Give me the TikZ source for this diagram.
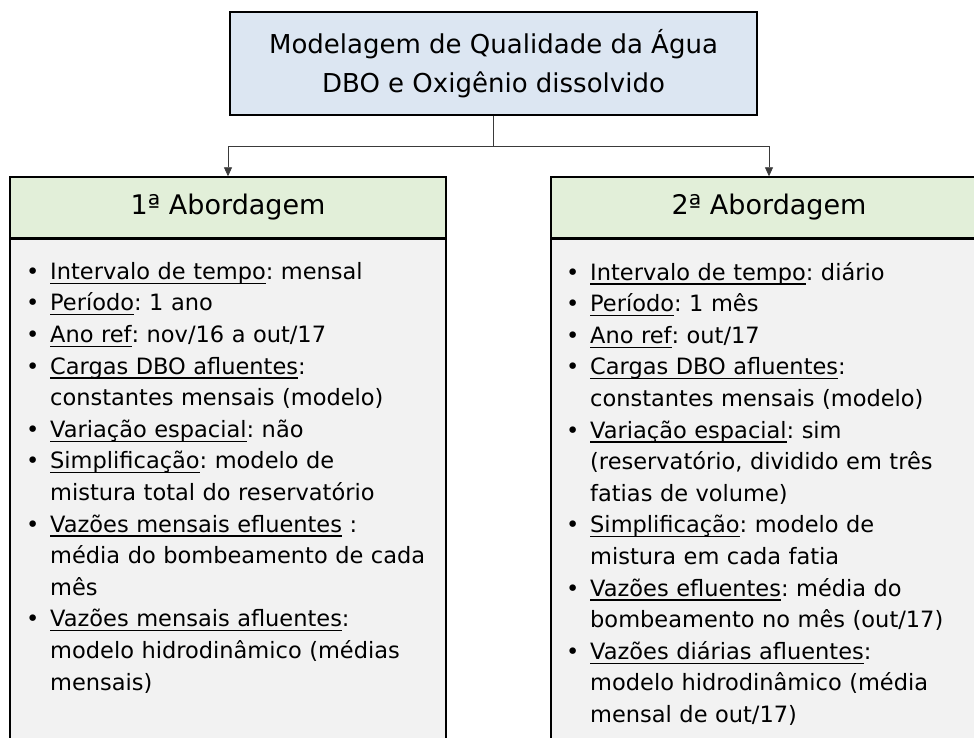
\documentclass[tikz,border=0pt]{standalone}
\usepackage{fontspec}
\setmainfont{DejaVu Sans}
\usetikzlibrary{positioning,arrows.meta}

\definecolor{topblue}{HTML}{DCE6F2}
\definecolor{headgreen}{HTML}{E2EFD9}
\definecolor{bodygray}{HTML}{F2F2F2}
\definecolor{linegray}{HTML}{3A3A3A}

% underlined field name, line at a fixed depth
\newcommand{\sublinha}[1]{\setbox0\hbox{#1}\rlap{\rule[-4.5pt]{\wd0}{1.2pt}}\box0}
% one bullet line of a list, hanging indent for the continuation lines
\newcommand{\topico}[1]{\hangindent=28pt\hangafter=1\noindent\makebox[28pt][l]{\hspace{4pt}\textbullet}#1\par}

\begin{document}
\begin{tikzpicture}[x=1pt, y=-1pt,
    titlebox/.style={draw, line width=1.4pt, fill=topblue, minimum width=527pt, minimum height=103pt, align=center, font=\fontsize{26}{39}\selectfont},
    headbox/.style={draw, line width=1.4pt, fill=headgreen, minimum width=436pt, minimum height=61pt, font=\fontsize{27}{30}\selectfont},
    bodybox/.style={draw, line width=1.4pt, fill=bodygray, minimum width=436pt, minimum height=540pt},
    itemtext/.style={anchor=north west, inner sep=0pt, text width=420pt, font=\fontsize{22.5}{31.6}\selectfont\frenchspacing\raggedright},
    conn/.style={draw=linegray, line width=0.8pt, -{Triangle[length=9pt, width=8pt]}}]
    \path[use as bounding box, clip] (0,0) rectangle (974,738);

    \node (title) [titlebox] at (493.5,63.5) {Modelagem de Qualidade da Água\\DBO e Oxigênio dissolvido};

    \node (head1) [headbox] at (228,207.5) {1ª Abordagem};
    \node (body1) [bodybox, below=0pt of head1] {};
    \node (head2) [headbox] at (769,207.5) {2ª Abordagem};
    \node (body2) [bodybox, below=0pt of head2] {};

    \coordinate (split) at (493.5,146);
    \draw [conn] (title.south) -- (split) -| (head1.north);
    \draw [conn] (split) -| (head2.north);

    \node (items1) [itemtext] at (22,262) {%
        \topico{\sublinha{Intervalo de tempo}: mensal}
        \topico{\sublinha{Período}: 1 ano}
        \topico{\sublinha{Ano ref}: nov/16 a out/17}
        \topico{\sublinha{Cargas DBO afluentes}:\newline constantes mensais (modelo)}
        \topico{\sublinha{Variação espacial}: não}
        \topico{\sublinha{Simplificação}: modelo de\newline mistura total do reservatório}
        \topico{\sublinha{Vazões mensais efluentes}\ :\newline média do bombeamento de cada\newline mês}
        \topico{\sublinha{Vazões mensais afluentes}:\newline modelo hidrodinâmico (médias\newline mensais)}};

    \node (items2) [itemtext] at (562,262) {%
        \topico{\sublinha{Intervalo de tempo}: diário}
        \topico{\sublinha{Período}: 1 mês}
        \topico{\sublinha{Ano ref}: out/17}
        \topico{\sublinha{Cargas DBO afluentes}:\newline constantes mensais (modelo)}
        \topico{\sublinha{Variação espacial}: sim\newline (reservatório, dividido em três\newline fatias de volume)}
        \topico{\sublinha{Simplificação}: modelo de\newline mistura em cada fatia}
        \topico{\sublinha{Vazões efluentes}: média do\newline bombeamento no mês (out/17)}
        \topico{\sublinha{Vazões diárias afluentes}:\newline modelo hidrodinâmico (média\newline mensal de out/17)}};
\end{tikzpicture}
\end{document}
